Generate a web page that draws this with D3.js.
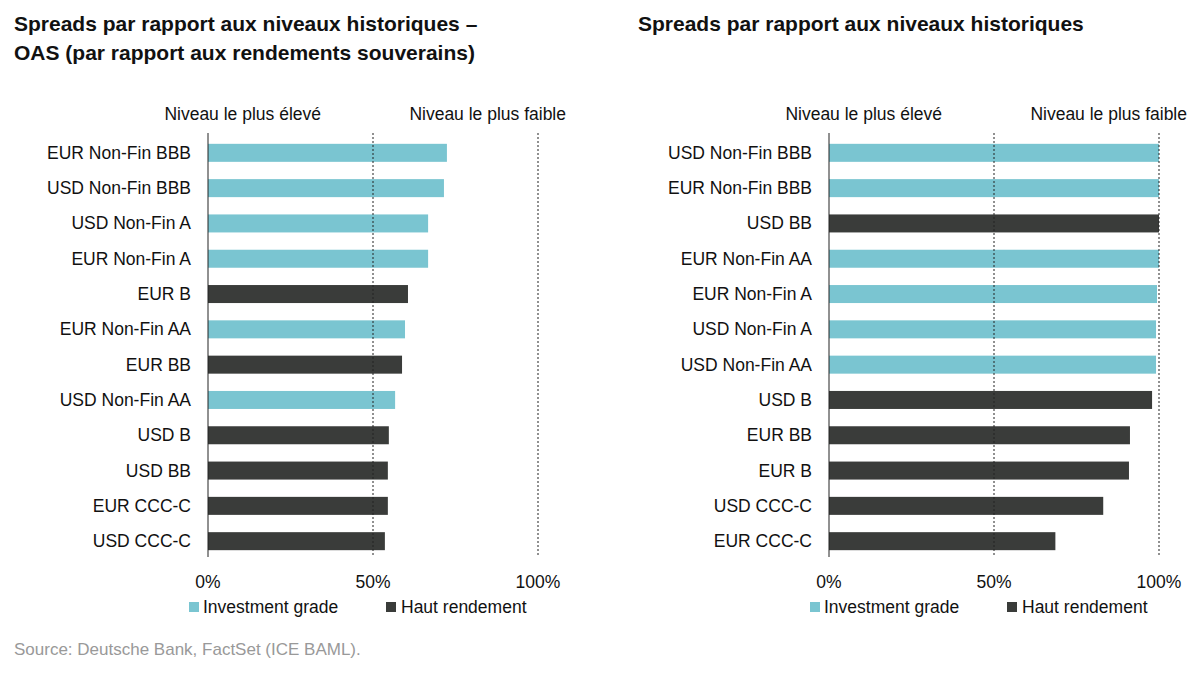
<!DOCTYPE html>
<html><head><meta charset="utf-8">
<script src="https://cdn.jsdelivr.net/npm/d3@7"></script>
<style>body{margin:0;background:#fff;font-family:"Liberation Sans",Arial,sans-serif}</style>
</head><body>
<svg id="c" width="1203" height="673"></svg>
<script>
// left panel
const leftCats = ["EUR Non-Fin BBB","USD Non-Fin BBB","USD Non-Fin A","EUR Non-Fin A","EUR B","EUR Non-Fin AA","EUR BB","USD Non-Fin AA","USD B","USD BB","EUR CCC-C","USD CCC-C"];
const leftVals = [72.4,71.5,66.7,66.7,60.6,59.7,58.8,56.7,54.8,54.5,54.5,53.6];
const leftIG = [1,1,1,1,0,1,0,1,0,0,0,0];
// right panel
const rightCats = ["USD Non-Fin BBB","EUR Non-Fin BBB","USD BB","EUR Non-Fin AA","EUR Non-Fin A","USD Non-Fin A","USD Non-Fin AA","USD B","EUR BB","EUR B","USD CCC-C","EUR CCC-C"];
const rightVals = [100,100,100,100,99.4,99.1,99.1,97.9,91.2,90.9,83.1,68.6];
const rightIG = [1,1,0,1,1,1,1,0,0,0,0,0];
const ticks = [0,50,100];
const tickLabels = ["0%","50%","100%"];

const svg = d3.select("#c");
const teal = "#7ac5d1", dark = "#3a3c3a";

function panel(x0, titleLines, cats, vals, ig) {
  const x = d3.scaleLinear().domain([0,100]).range([x0, x0+330]);
  const y = d3.scaleBand().domain(cats).range([135, 559]).paddingInner(0.49).paddingOuter(0.25);
  const g = svg.append("g");
  titleLines.forEach((t,i)=> g.append("text").attr("x", titleLines.length>1?14:x0-190).attr("y", 31+i*29)
    .attr("font-size",21).attr("font-weight","bold").attr("fill","#111").text(t));
  g.append("text").attr("x", x(50)-52).attr("y",120).attr("text-anchor","end").attr("font-size",17.5).attr("fill","#111").text("Niveau le plus élevé");
  g.append("text").attr("x", x(100)+28).attr("y",120).attr("text-anchor","end").attr("font-size",17.5).attr("fill","#111").text("Niveau le plus faible");
  g.selectAll("rect").data(cats).enter().append("rect")
    .attr("x", x(0)).attr("y", d=>y(d)).attr("height", y.bandwidth())
    .attr("width", (d,i)=>x(vals[i])-x(0)).attr("fill",(d,i)=>ig[i]?teal:dark);
  [50,100].forEach(v=> g.append("line").attr("x1",x(v)).attr("x2",x(v)).attr("y1",133).attr("y2",557)
    .attr("stroke","#222").attr("stroke-dasharray","2,2"));
  g.append("line").attr("x1",x(0)).attr("x2",x(0)).attr("y1",133).attr("y2",557).attr("stroke","#222");
  g.selectAll(".cl").data(cats).enter().append("text").attr("x",x0-17).attr("y",d=>y(d)+y.bandwidth()/2+6)
    .attr("text-anchor","end").attr("font-size",17.5).attr("fill","#111").text(d=>d);
  g.selectAll(".tk").data(ticks).enter().append("text").attr("x",d=>x(d)).attr("y",588)
    .attr("text-anchor","middle").attr("font-size",17.5).attr("fill","#111").text((d,i)=>tickLabels[i]);
  const lg = [["Investment grade",teal],["Haut rendement",dark]];
  g.append("rect").attr("x",x0-19).attr("y",602).attr("width",10).attr("height",10).attr("fill",teal);
  g.append("text").attr("x",x0-5).attr("y",613).attr("font-size",17.5).attr("fill","#111").text(lg[0][0]);
  g.append("rect").attr("x",x0+178).attr("y",602).attr("width",10).attr("height",10).attr("fill",dark);
  g.append("text").attr("x",x0+193).attr("y",613).attr("font-size",17.5).attr("fill","#111").text(lg[1][0]);
}
panel(208, ["Spreads par rapport aux niveaux historiques –","OAS (par rapport aux rendements souverains)"], leftCats, leftVals, leftIG);
panel(829, ["Spreads par rapport aux niveaux historiques"], rightCats, rightVals, rightIG);
svg.select("g:last-child text").attr("x",638);
svg.append("text").attr("x",14).attr("y",655).attr("font-size",17).attr("fill","#999").text("Source: Deutsche Bank, FactSet (ICE BAML).");
</script>
</body></html>
